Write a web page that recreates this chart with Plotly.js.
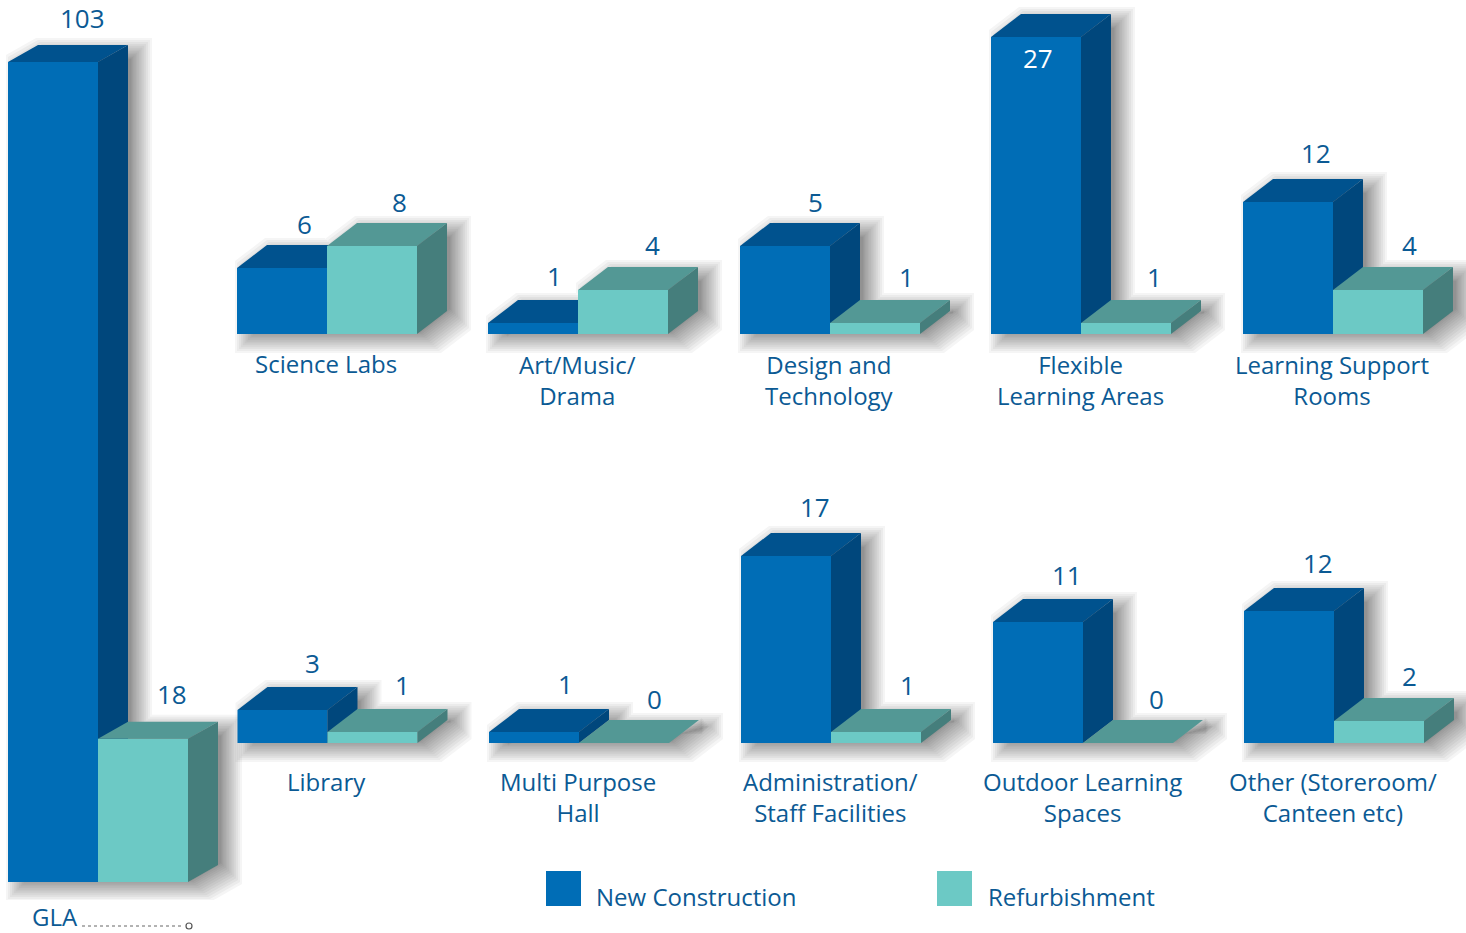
<!DOCTYPE html>
<html>
<head>
<meta charset="utf-8">
<script src="https://cdn.plot.ly/plotly-3.0.1.min.js"></script>
<style>html,body{margin:0;padding:0;background:#fff}#chart{width:1466px;height:933px}</style>
</head>
<body>
<div id="chart"></div>
<script>
// ---- data ----
const categories = ["GLA","Science Labs","Art/Music/<br>Drama","Design and<br>Technology","Flexible<br>Learning Areas","Learning Support<br>Rooms",
  "Library","Multi Purpose<br>Hall","Administration/<br>Staff Facilities","Outdoor Learning<br>Spaces","Other (Storeroom/<br>Canteen etc)"];
// Printed figures, exactly as the reference labels them.
const newConstructionLabels = [103,6,1,5,27,12,3,1,17,11,12];
const refurbishmentLabels   = [18,8,4,1,1,4,1,0,1,0,2];
// Bar heights as drawn in the reference. "Design and Technology" is labelled 5
// in the source but its bar is drawn 8 units tall; both are kept as they appear.
const newConstruction = [103,6,1,8,27,12,3,1,17,11,12];
const refurbishment   = [18,8,4,1,1,4,1,0,1,0,2];
const seriesNames = ["New Construction","Refurbishment"];

// ---- layout of the panels (pixels) ----
const panelLeft = [8,237,488,740,991,1243,237.5,489,741,993,1244];
const panelBase = [882,334,334,334,334,334,743,743,743,743,743];
const pxPerUnit = [7.96,11,11,11,11,11,11,11,11,11,11];
const depthY    = [17,23,23,23,23,23,23,23,23,23,23];
const depthX = 30, barW = 90;
const newLabelDx = [29,22,21,30,2,28,30,31,29,29,29];
const refLabelDx = [29,27,29,31,28,31,30,30,31,28,30];
const newLabelDy = [27,21,24,21,-44,26,24,25,26,24,25];
const refLabelDy = [28,21,22,23,23,22,24,21,24,21,22];
const labelDrop  = [0,30,30,30,30,30,38,38,38,38,38];

// ---- style ----
const W = 1466, H = 933;
const textColor = "#0B5A94", fontFamily = "'Open Sans', sans-serif";
const palette = [
  {front:"#006DB6", top:"#00528E", side:"#00477C"},
  {front:"#6CC9C5", top:"#539895", side:"#457E7C"}
];
const labelFont = 24, valueFont = 26;

const traces = [], layout = {
  width:W, height:H, margin:{l:0,r:0,t:0,b:0}, showlegend:false,
  paper_bgcolor:"#fff", plot_bgcolor:"rgba(0,0,0,0)", barmode:"overlay",
  annotations:[], shapes:[]
};
function axisPair(n, xr, yr, xd, yd){
  const off = {visible:false, fixedrange:true, showgrid:false, zeroline:false};
  layout["xaxis"+n] = {...off, range:xr, domain:xd, anchor:"y"+n};
  layout["yaxis"+n] = {...off, range:yr, domain:yd, anchor:"x"+n};
}
function poly(n, xs, ys, color){
  traces.push({type:"scatter", mode:"lines", x:[...xs, xs[0]], y:[...ys, ys[0]], fill:"toself",
    fillcolor:color, line:{width:0}, hoverinfo:"skip", xaxis:"x"+n, yaxis:"y"+n});
}
const label = (n,x,y,text,dx,dy,color,size)=>layout.annotations.push({
  xref:"x"+n, yref:"y"+n, x, y, text, xshift:dx, yshift:dy, showarrow:false,
  xanchor:"center", yanchor:"middle", font:{family:fontFamily,size:size||labelFont,color:color||textColor}, align:"center"});

categories.forEach((cat,i)=>{
  const vals = [newConstruction[i], refurbishment[i]];
  const printed = [newConstructionLabels[i], refurbishmentLabels[i]];
  const u = pxPerUnit[i], dxU = depthX/barW, dyU = depthY[i]/u;
  const base = panelBase[i], left = panelLeft[i];
  const xp0 = Math.max(left-4,0), xp1 = Math.min(left+2*barW+depthX+25,W);
  const pyTop = base-(Math.max(...vals)*u+depthY[i])-10, pyBot = base+(i===0?18:22);
  const xr = [(xp0-left)/barW-0.5,(xp1-left)/barW-0.5];
  const yr = [(base-pyBot)/u,(base-pyTop)/u];
  const xd = [xp0/W,xp1/W], yd = [1-pyBot/H,1-pyTop/H];

  const nShadow = 3*i+1, nBack = 3*i+2, nFront = 3*i+3;
  axisPair(nShadow,xr,yr,xd,yd);
  axisPair(nBack,xr,yr,xd,yd);
  axisPair(nFront,xr,yr,xd,yd);

  // soft shadow made of nested translucent outlines of the block
  const [a,b] = vals;
  for(let k=0;k<14;k++){
    const r = -8+21*Math.pow(k/13,1.25), px = r/barW, py = r/u, sx = 11/barW, sy = -6/u;
    const xs = [-0.5-px,1.5+px,1.5+dxU+px,1.5+dxU+px];
    const ys = [-py,-py,dyU-py,b+dyU+py];
    if(a>b){ xs.push(0.5+dxU+px,0.5+dxU+px); ys.push(b+dyU+py,a+dyU+py); }
    else if(a<b){ xs.push(0.5+dxU-px,0.5-px,0.5-px); ys.push(b+dyU+py,b+py,a+dyU+py); }
    xs.push(-0.5+dxU-px,-0.5-px); ys.push(a+dyU+py,a+py);
    poly(nShadow,xs.map(v=>v+sx),ys.map(v=>v+sy),"rgba(50,50,50,0.046)");
  }

  vals.forEach((v,s)=>{
    const n = s?nFront:nBack, c = palette[s], x0 = s-0.5, x1 = s+0.5;
    poly(n,[x0,x1,x1+dxU,x0+dxU],[v,v,v+dyU,v+dyU],c.top);
    if(v>0) poly(n,[x1,x1+dxU,x1+dxU,x1],[0,dyU,v+dyU,v],c.side);
    traces.push({type:"bar", x:[s], y:[v], width:[1], base:[0], name:seriesNames[s],
      marker:{color:c.front,line:{width:0}}, hoverinfo:"y", xaxis:"x"+n, yaxis:"y"+n});
    const dx = s?refLabelDx[i]:newLabelDx[i], dy = s?refLabelDy[i]:newLabelDy[i];
    label(n,s,v+dyU,String(printed[s]),dx,dy,dy<0?"#fff":textColor,valueFont);
  });
  if(i>0) label(nBack,0.5,0,cat,-1,-(labelDrop[i]+(cat.includes("<br>")?16:0)));
});

// GLA label with its dotted leader
const paperAnno = (x,y,text,anchor)=>layout.annotations.push({xref:"paper",yref:"paper",x:x/W,y:1-y/H,text,showarrow:false,
  xanchor:anchor,yanchor:"middle",font:{family:fontFamily,size:labelFont,color:textColor}});
paperAnno(30,916,categories[0],"left");
layout.shapes.push({type:"line",xref:"paper",yref:"paper",x0:82/W,x1:183/W,y0:1-926/H,y1:1-926/H,line:{color:"#666",width:1,dash:"dot"}});
layout.shapes.push({type:"circle",xref:"paper",yref:"paper",x0:186/W,x1:192/W,y0:1-923/H,y1:1-929/H,line:{color:"#555",width:1.2}});

// legend
[[546,594],[937,986]].forEach(([sq,tx],s)=>{
  layout.shapes.push({type:"rect",xref:"paper",yref:"paper",x0:sq/W,x1:(sq+35)/W,y0:1-871/H,y1:1-906/H,fillcolor:palette[s].front,line:{width:0}});
  paperAnno(tx,896,seriesNames[s],"left");
});

Plotly.newPlot("chart",traces,layout,{displayModeBar:false,staticPlot:true});
</script>
</body>
</html>
